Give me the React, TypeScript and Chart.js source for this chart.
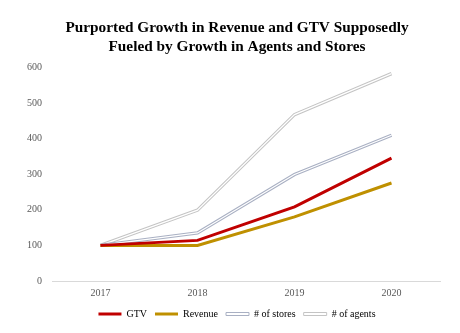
import React, { useEffect, useRef } from "react";
import { Chart, registerables } from "chart.js";

Chart.register(...registerables);

const titleLines = [
  "Purported Growth in Revenue and GTV Supposedly",
  "Fueled by Growth in Agents and Stores",
];
const years = ["2017", "2018", "2019", "2020"];
const gtv = [100, 114, 208, 345];
const revenue = [100, 100, 180, 275];
const stores = [100, 135, 299, 409];
const agents = [100, 199, 467, 582];
const seriesNames = ["GTV", "Revenue", "# of stores", "# of agents"];

const SERIF = "'Liberation Serif', 'Times New Roman', serif";

export default function App() {
  const ref = useRef<HTMLCanvasElement | null>(null);

  useEffect(() => {
    document.body.style.margin = "0";
    const canvas = ref.current;
    if (!canvas) return;
    const red = "#c00000";
    const gold = "#bf9000";
    const storesGray = "#a9b0c3";
    const agentsGray = "#c4c4c4";

    const chart = new Chart(canvas, {
      type: "line",
      data: {
        labels: years,
        datasets: [
          { label: seriesNames[0], data: gtv, borderColor: red, borderWidth: 3, pointRadius: 0, order: 0 },
          { label: seriesNames[1], data: revenue, borderColor: gold, borderWidth: 3, pointRadius: 0, order: 1 },
          { label: "stores-inner", data: stores, borderColor: "#ffffff", borderWidth: 1.2, pointRadius: 0, order: 2 },
          { label: seriesNames[2], data: stores, borderColor: storesGray, borderWidth: 3.4, pointRadius: 0, order: 3 },
          { label: "agents-inner", data: agents, borderColor: "#ffffff", borderWidth: 1.2, pointRadius: 0, order: 4 },
          { label: seriesNames[3], data: agents, borderColor: agentsGray, borderWidth: 3.4, pointRadius: 0, order: 5 },
        ],
      },
      options: {
        animation: false,
        responsive: false,
        maintainAspectRatio: false,
        layout: { padding: { left: 14, right: 0, top: 8, bottom: 4 } },
        plugins: {
          tooltip: { enabled: false },
          title: {
            display: true,
            text: titleLines,
            color: "#000000",
            font: { family: SERIF, size: 15.3, weight: "bold", lineHeight: 1.25 },
            padding: { top: 10, bottom: 11 },
          },
          legend: {
            display: true,
            position: "bottom",
            labels: {
              boxWidth: 23,
              boxHeight: 3,
              padding: 8,
              color: "#595959",
              font: { family: SERIF, size: 10 },
              generateLabels: () => [
                { text: seriesNames[0], fillStyle: red, strokeStyle: red, lineWidth: 0, hidden: false, datasetIndex: 0 },
                { text: seriesNames[1], fillStyle: gold, strokeStyle: gold, lineWidth: 0, hidden: false, datasetIndex: 1 },
                { text: seriesNames[2], fillStyle: "#ffffff", strokeStyle: storesGray, lineWidth: 1, hidden: false, datasetIndex: 3 },
                { text: seriesNames[3], fillStyle: "#ffffff", strokeStyle: agentsGray, lineWidth: 1, hidden: false, datasetIndex: 5 },
              ],
            },
          },
        },
        scales: {
          x: {
            offset: true,
            grid: { display: false, drawTicks: false },
            border: { display: true, color: "#d9d9d9", width: 1 },
            ticks: { color: "#595959", font: { family: SERIF, size: 10 }, padding: -18, mirror: true },
            afterFit: (scale: any) => {
              scale.height = 20;
            },
          },
          y: {
            min: 0,
            max: 600,
            afterFit: (scale: any) => {
              scale.width = 38;
            },
            grid: { display: false, drawTicks: false },
            border: { display: false },
            ticks: { stepSize: 100, color: "#595959", font: { family: SERIF, size: 10 }, padding: 10 },
          },
          yRight: {
            position: "right",
            display: true,
            afterFit: (scale: any) => {
              scale.width = 20;
            },
            grid: { display: false, drawTicks: false },
            border: { display: false },
            ticks: { display: false },
          },
        },
      },
    } as any);
    return () => chart.destroy();
  }, []);

  return (
    <div style={{ width: 460, height: 333 }}>
      <canvas ref={ref} width={460} height={333} style={{ display: "block", width: 460, height: 333 }} />
    </div>
  );
}
